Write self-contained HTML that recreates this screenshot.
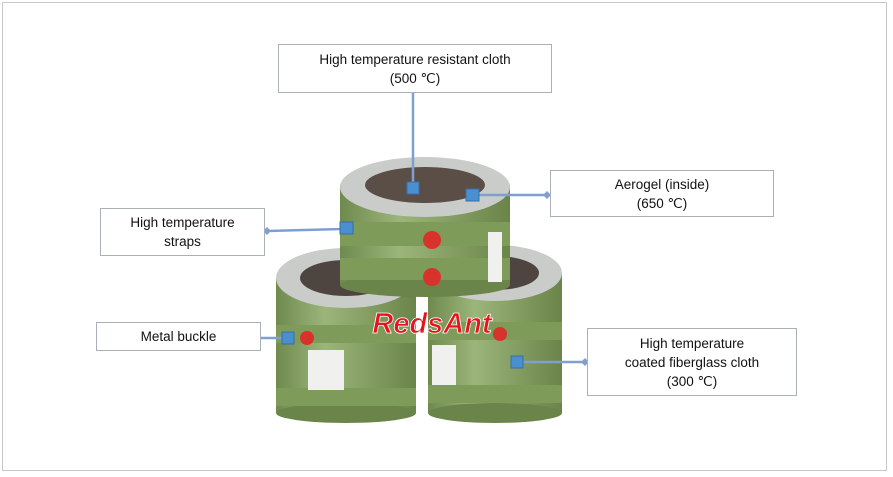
<!DOCTYPE html>
<html><head><meta charset="utf-8"><style>
html,body{margin:0;padding:0;background:#fff;}
body{width:893px;height:477px;position:relative;overflow:hidden;font-family:"Liberation Sans",Arial,sans-serif;}
.frame{position:absolute;left:2px;top:2px;width:885px;height:469px;border:1px solid #c8c8c8;box-sizing:border-box;}
.box{position:absolute;border:1px solid #a9b0b8;background:#fff;box-sizing:border-box;font-size:13.5px;color:#111;text-align:center;display:flex;align-items:center;justify-content:center;line-height:19px;}
svg{position:absolute;left:0;top:0;}
</style></head><body>
<div class="frame"></div>
<svg width="893" height="477">
<defs>
<linearGradient id="g" x1="0" x2="1"><stop offset="0" stop-color="#6f8a4e"/><stop offset="0.35" stop-color="#9bb57a"/><stop offset="1" stop-color="#6a8449"/></linearGradient>
</defs>
<!-- left cylinder -->
<rect x="276" y="278" width="140" height="135" fill="url(#g)"/>
<ellipse cx="346" cy="413" rx="70" ry="10" fill="#6a8449"/>
<ellipse cx="346" cy="278" rx="70" ry="30" fill="#c9ccc9"/>
<ellipse cx="346" cy="278" rx="46" ry="18" fill="#4e4540"/>
<rect x="276" y="325" width="140" height="18" fill="#7f9b5a"/>
<rect x="276" y="388" width="140" height="18" fill="#7f9b5a"/>
<rect x="308" y="350" width="36" height="40" fill="#f0f0ee"/>
<!-- right cylinder -->
<rect x="428" y="273" width="134" height="140" fill="url(#g)"/>
<ellipse cx="495" cy="413" rx="67" ry="10" fill="#6a8449"/>
<ellipse cx="495" cy="273" rx="67" ry="28" fill="#c9ccc9"/>
<ellipse cx="495" cy="273" rx="44" ry="17" fill="#4e4540"/>
<rect x="428" y="322" width="134" height="18" fill="#7f9b5a"/>
<rect x="428" y="385" width="134" height="18" fill="#7f9b5a"/>
<rect x="432" y="345" width="24" height="40" fill="#f0f0ee"/>
<!-- top cylinder -->
<rect x="340" y="185" width="170" height="100" fill="url(#g)"/>
<ellipse cx="425" cy="285" rx="85" ry="12" fill="#6a8449"/>
<ellipse cx="425" cy="187" rx="85" ry="30" fill="#c9ccc9"/>
<ellipse cx="425" cy="185" rx="60" ry="18" fill="#5a4e47"/>
<rect x="340" y="222" width="170" height="24" fill="#7f9b5a"/>
<rect x="340" y="258" width="170" height="22" fill="#7f9b5a"/>
<circle cx="432" cy="240" r="9" fill="#d8322c"/>
<circle cx="432" cy="277" r="9" fill="#d8322c"/>
<circle cx="307" cy="338" r="7" fill="#d8322c"/>
<circle cx="500" cy="334" r="7" fill="#d8322c"/>
<rect x="488" y="232" width="14" height="50" fill="#f0f0ee"/>
<text x="432" y="333" font-family="Liberation Sans,sans-serif" font-weight="bold" font-style="italic" font-size="29" fill="#e8141c" stroke="#fff" stroke-width="0.8" text-anchor="middle">RedsAnt</text>
<!-- connectors -->
<g stroke="#7f9fd0" stroke-width="2.5" fill="none">
<line x1="413" y1="93" x2="413" y2="185"/>
<line x1="478" y1="195" x2="547" y2="195"/>
<line x1="267" y1="231" x2="342" y2="229"/>
<line x1="248" y1="338" x2="282" y2="338"/>
<line x1="522" y1="362" x2="585" y2="362"/>
</g>
<g fill="#4a8fd0" stroke="#3a6ea8" stroke-width="1">
<rect x="407" y="182" width="12" height="12"/>
<rect x="466" y="189" width="13" height="12"/>
<rect x="340" y="222" width="13" height="12"/>
<rect x="282" y="332" width="12" height="12"/>
<rect x="511" y="356" width="12" height="12"/>
</g>
<g fill="#7f9fd0">
<polygon points="547,191 551,195 547,199 543,195"/>
<polygon points="267,227 271,231 267,235 263,231"/>
<polygon points="248,334 252,338 248,342 244,338"/>
<polygon points="585,358 589,362 585,366 581,362"/>
</g>
</svg>
<div class="box" style="left:278px;top:44px;width:274px;height:49px;">High temperature resistant cloth<br>(500 ℃)</div>
<div class="box" style="left:550px;top:170px;width:224px;height:47px;">Aerogel (inside)<br>(650 ℃)</div>
<div class="box" style="left:100px;top:208px;width:165px;height:48px;">High temperature<br>straps</div>
<div class="box" style="left:96px;top:322px;width:165px;height:29px;">Metal buckle</div>
<div class="box" style="left:587px;top:328px;width:210px;height:68px;">High temperature<br>coated fiberglass cloth<br>(300 ℃)</div>
</body></html>
